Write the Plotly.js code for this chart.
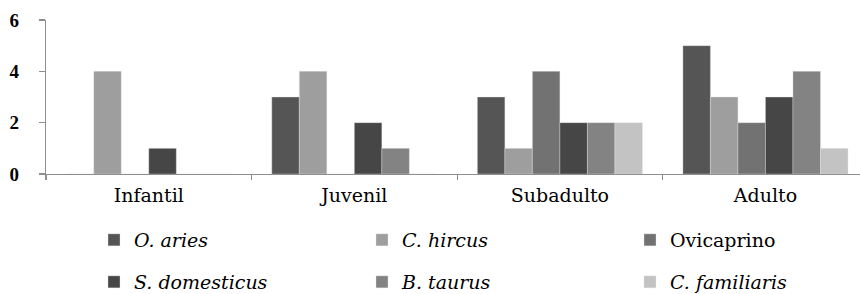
<!DOCTYPE html>
<html>
<head>
<meta charset="utf-8">
<script src="https://cdn.plot.ly/plotly-3.0.1.min.js"></script>
<style>html,body{margin:0;padding:0;background:#fff;}#chart{width:860px;height:294px;}</style>
</head>
<body>
<div id="chart"></div>
<script>
const categories = ['Infantil', 'Juvenil', 'Subadulto', 'Adulto'];
const seriesNames = ['<i>O. aries</i>', '<i>C. hircus</i>', 'Ovicaprino', '<i>S. domesticus</i>', '<i>B. taurus</i>', '<i>C. familiaris</i>'];
const oAries = [0, 3, 3, 5];
const cHircus = [4, 4, 1, 3];
const ovicaprino = [0, 0, 4, 2];
const sDomesticus = [1, 2, 2, 3];
const bTaurus = [0, 1, 2, 4];
const cFamiliaris = [0, 0, 2, 1];
const seriesValues = [oAries, cHircus, ovicaprino, sDomesticus, bTaurus, cFamiliaris];
const colors = ['#555555', '#9e9e9e', '#727272', '#464646', '#838383', '#c3c3c3'];

const font = 'DejaVu Serif, serif';
const traces = seriesValues.map((vals, i) => ({
  type: 'bar',
  name: seriesNames[i],
  x: categories,
  y: vals,
  marker: {color: colors[i], line: {color: 'rgba(230,230,230,0.6)', width: 0.6}},
  legend: i < 3 ? 'legend' : 'legend2',
  hoverinfo: 'x+y+name'
}));

const legendCommon = {
  orientation: 'h',
  xref: 'container', yref: 'container',
  xanchor: 'left', yanchor: 'middle',
  entrywidth: 223, entrywidthmode: 'pixels',
  font: {family: font, size: 19, color: '#000'},
  bgcolor: 'rgba(0,0,0,0)',
  itemclick: false, itemdoubleclick: false
};

const layout = {
  width: 860, height: 294,
  margin: {l: 46, r: 0, t: 20, b: 120},
  paper_bgcolor: '#fff', plot_bgcolor: '#fff',
  barmode: 'group', bargap: 0.197, bargroupgap: 0,
  showlegend: true,
  xaxis: {
    type: 'category', range: [-0.5, 3.46],
    showline: true, linecolor: '#8e8e8e', linewidth: 1.2,
    ticks: 'outside', tickson: 'boundaries', ticklen: 5, tickcolor: '#8e8e8e', tickwidth: 1.2,
    showgrid: false, zeroline: false,
    tickfont: {family: font, size: 19, color: '#000'},
    ticklabelstandoff: 4
  },
  yaxis: {
    range: [0, 6], tickvals: [0, 2, 4, 6], ticktext: ['0', '2', '4', '6'],
    showline: true, linecolor: '#8e8e8e', linewidth: 1.2,
    ticks: 'outside', ticklen: 6, tickcolor: '#8e8e8e', tickwidth: 1.2,
    showgrid: false, zeroline: false,
    tickfont: {family: 'Liberation Serif, serif', size: 19, color: '#000', weight: 'bold'},
    ticklabelstandoff: 16
  },
  legend: Object.assign({}, legendCommon, {x: 94 / 860, y: 1 - 240 / 294}),
  legend2: Object.assign({}, legendCommon, {x: 94 / 860, y: 1 - 282 / 294})
};

Plotly.newPlot('chart', traces, layout, {displayModeBar: false, staticPlot: true});
</script>
</body>
</html>
